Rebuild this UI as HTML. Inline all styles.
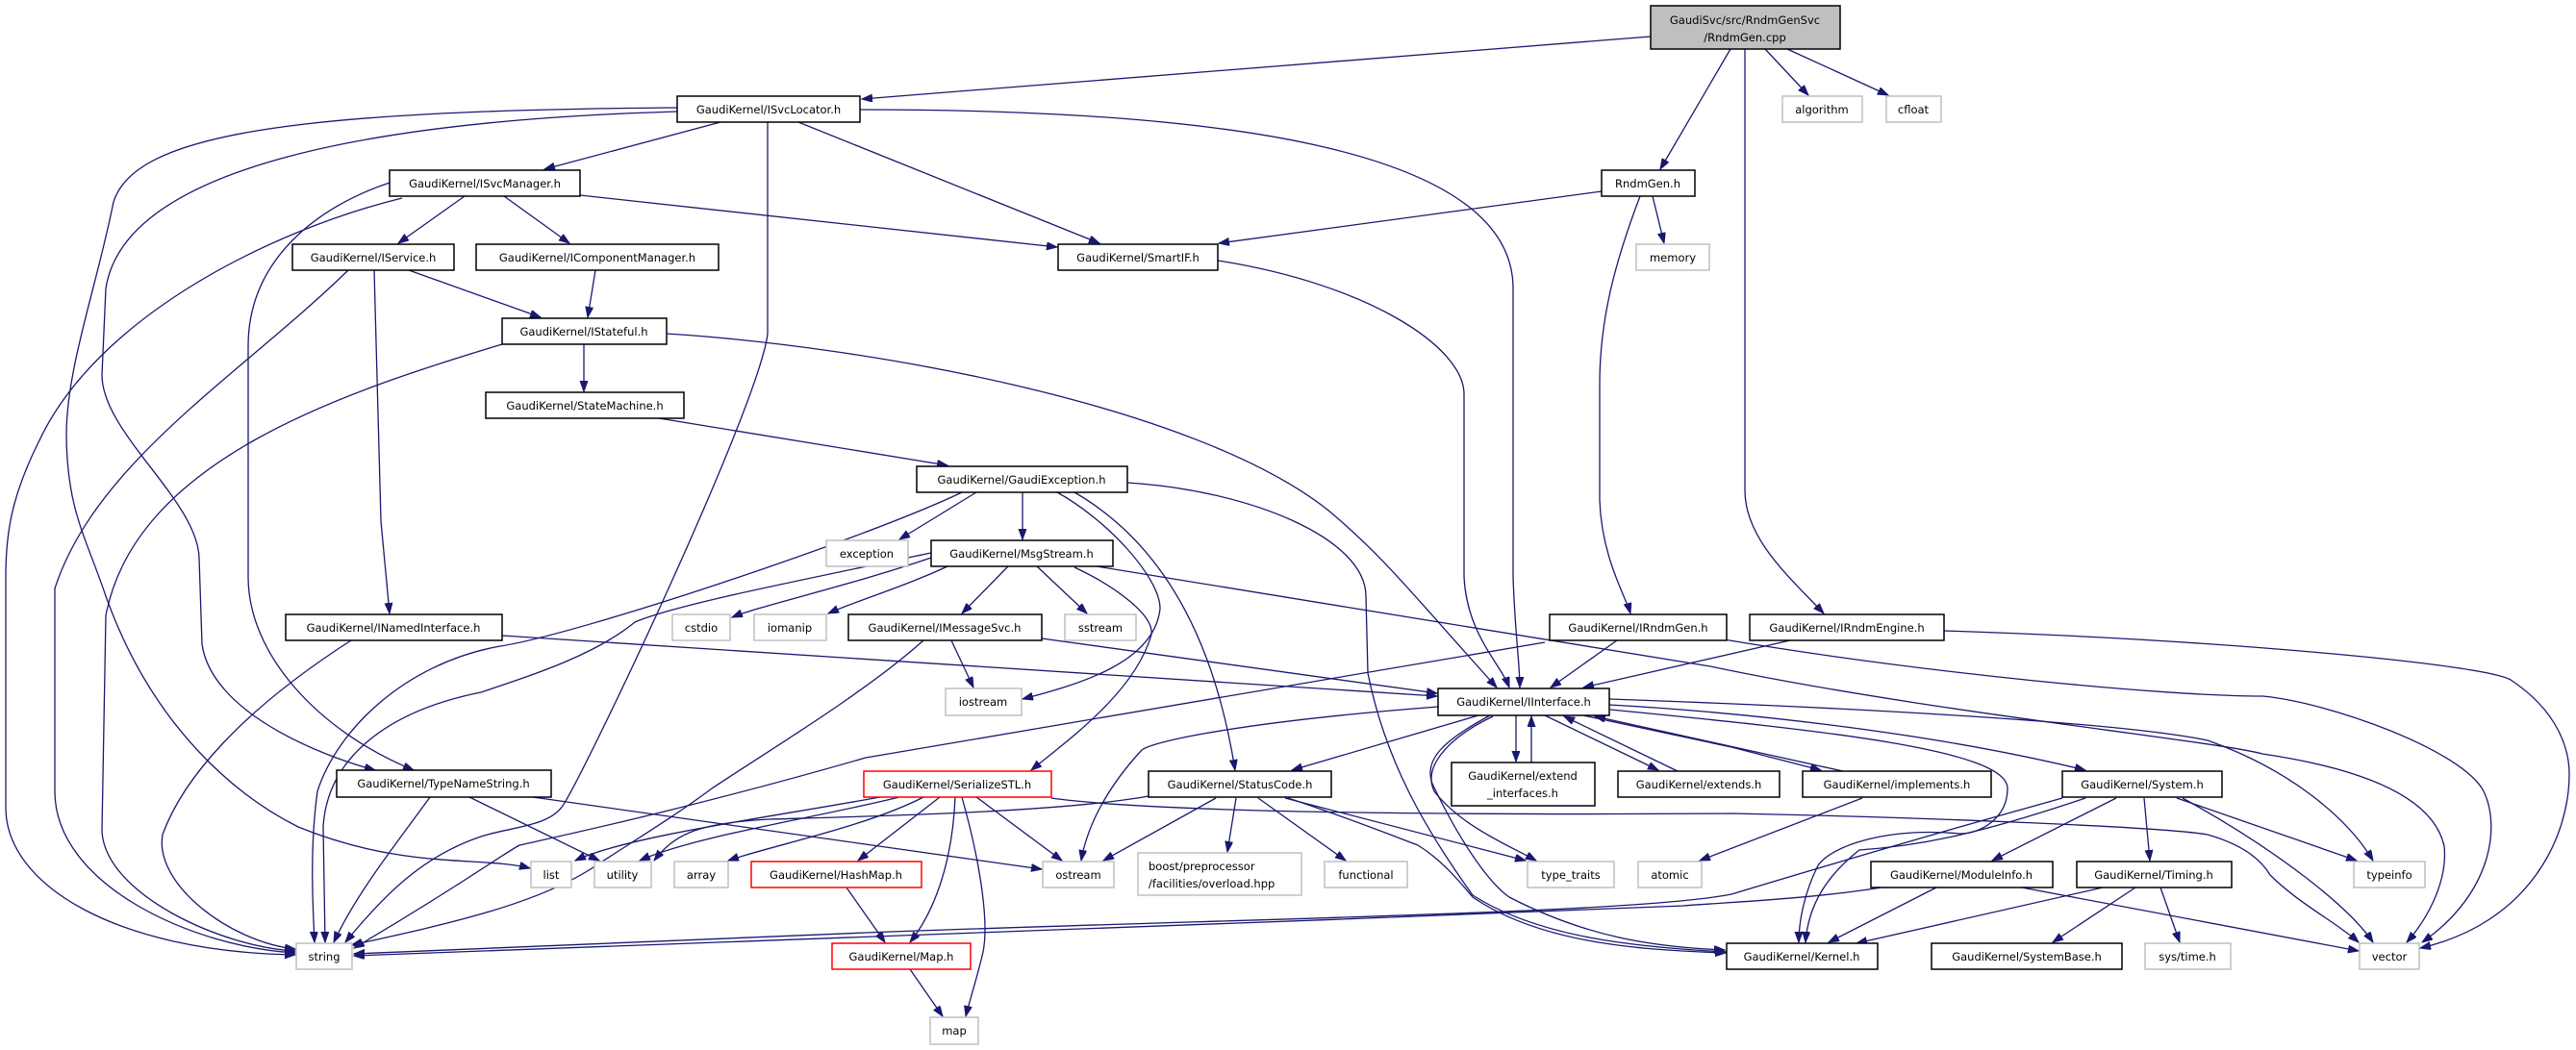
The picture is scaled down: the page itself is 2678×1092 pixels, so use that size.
<!DOCTYPE html>
<html><head><meta charset="utf-8"><style>
html,body{margin:0;padding:0;background:#fff;}
svg{display:block;}
text{font-family:"DejaVu Sans","Liberation Sans",sans-serif;font-size:11.5px;fill:#000;}
.e{fill:none;stroke:#191970;stroke-width:1.3;marker-end:url(#a);}
.n{fill:#fff;stroke:#000;stroke-width:1.5;}
.g{fill:#fff;stroke:#bfbfbf;stroke-width:1.5;}
.r{fill:#fff;stroke:#ff0000;stroke-width:1.5;}
</style></head><body>
<svg width="2678" height="1092" viewBox="0 0 2678 1092" xmlns="http://www.w3.org/2000/svg">
<defs><marker id="a" markerUnits="userSpaceOnUse" markerWidth="12" markerHeight="9" refX="11" refY="4" orient="auto"><path d="M0,0 L11,4 L0,8 z" fill="#191970" stroke="#191970"/></marker></defs>

<!-- edges -->
<path class="e" d="M1716,38 L896,103"/>
<path class="e" d="M1799,51 L1726,176"/>
<path class="e" d="M1835,51 L1880,99"/>
<path class="e" d="M1858,51 L1963,99"/>
<path class="e" d="M1814,51 L1814,510 C1814,560 1860,600 1896,638"/>
<path class="e" d="M749,127 L566,176"/>
<path class="e" d="M830,127 L1143,253"/>
<path class="e" d="M894,114 C1250,114 1573,150 1573,300 L1573,600 C1575,660 1580,690 1580,715"/>
<path class="e" d="M798,127 L798,347 C790,420 610,800 585,838 C570,860 530,860 500,870 C440,890 400,930 359,980"/>
<path class="e" d="M704,116 C400,125 130,170 110,300 L106,390 C106,450 205,520 207,580 L210,670 C220,740 330,785 390,801"/>
<path class="e" d="M704,112 C300,115 140,140 118,210 C100,300 70,380 69,450 C69,530 90,560 110,620 C160,760 250,830 310,860 C420,905 500,890 551,903"/>
<path class="e" d="M483,204 L414,253"/>
<path class="e" d="M524,204 L592,253"/>
<path class="e" d="M603,203 L1099,257"/>
<path class="e" d="M418,206 C280,240 100,330 40,460 C10,520 6,560 6,600 L6,840 C6,920 120,990 307,993"/>
<path class="e" d="M405,190 C330,215 258,270 258,360 L258,600 C258,680 330,760 430,801"/>
<path class="e" d="M425,281 L562,330"/>
<path class="e" d="M619,281 L611,330"/>
<path class="e" d="M389,281 L396,542 L405,638"/>
<path class="e" d="M362,281 C250,390 100,480 57,612 L57,823 C57,920 200,985 307,991"/>
<path class="e" d="M522,358 C350,410 141,480 110,640 L106,865 C110,930 230,985 307,989"/>
<path class="e" d="M607,358 L607,407"/>
<path class="e" d="M693,347 C900,360 1240,420 1380,530 C1440,580 1470,620 1556,715"/>
<path class="e" d="M685,435 L985,484"/>
<path class="e" d="M1266,271 C1420,295 1522,360 1522,410 L1522,600 C1525,660 1560,690 1569,715"/>
<path class="e" d="M1665,199 L1267,253"/>
<path class="e" d="M1718,204 L1730,253"/>
<path class="e" d="M1705,204 C1680,270 1663,330 1663,400 L1663,520 C1665,580 1690,620 1695,638"/>
<path class="e" d="M1015,512 L935,561"/>
<path class="e" d="M1063,512 L1063,561"/>
<path class="e" d="M1000,512 C900,560 600,660 520,672 C420,690 350,760 330,823 C322,880 325,940 327,980"/>
<path class="e" d="M968,575 C800,610 700,630 660,647 C620,680 560,700 500,720 C400,740 340,790 336,860 L338,980"/>
<path class="e" d="M968,580 C880,610 790,630 761,642"/>
<path class="e" d="M985,589 C940,610 890,625 861,638"/>
<path class="e" d="M1099,512 C1150,540 1206,600 1206,633 C1200,690 1120,712 1063,727"/>
<path class="e" d="M1117,512 C1200,560 1260,650 1284,801"/>
<path class="e" d="M1172,502 C1300,510 1420,560 1420,620 L1422,700 C1440,790 1480,860 1531,931 C1600,975 1700,985 1794,990"/>
<path class="e" d="M1117,590 C1160,610 1200,640 1197,660 C1180,720 1110,770 1072,801"/>
<path class="e" d="M1048,589 L1000,638"/>
<path class="e" d="M1078,589 L1130,638"/>
<path class="e" d="M1140,589 L1778,693 C2000,740 2300,770 2352,784 C2460,800 2530,830 2541,880 C2545,920 2520,960 2502,980"/>
<path class="e" d="M989,666 L1012,715"/>
<path class="e" d="M1083,664 L1494,721"/>
<path class="e" d="M960,666 C900,720 800,780 740,820 C700,850 650,880 620,900 C560,940 470,960 365,983"/>
<path class="e" d="M522,661 L1494,724"/>
<path class="e" d="M365,666 C250,740 190,810 169,868 C160,920 240,980 307,987"/>
<path class="e" d="M1681,666 L1612,715"/>
<path class="e" d="M1606,668 L900,788 C720,840 580,870 540,879 C520,890 480,920 368,986"/>
<path class="e" d="M1792,665 C2000,700 2250,724 2352,724 C2420,730 2560,780 2582,823 C2600,860 2590,930 2518,980"/>
<path class="e" d="M1861,666 L1646,715"/>
<path class="e" d="M2021,656 C2300,665 2580,690 2610,707 C2660,740 2671,780 2671,805 C2671,870 2630,960 2516,986"/>
<path class="e" d="M1495,735 C1300,750 1200,770 1187,780 C1150,820 1130,860 1124,895"/>
<path class="e" d="M1537,744 L1343,801"/>
<path class="e" d="M1576,744 L1576,792"/>
<path class="e" d="M1592,793 L1592,745"/>
<path class="e" d="M1606,744 L1724,801"/>
<path class="e" d="M1744,802 L1626,745"/>
<path class="e" d="M1646,744 L1800,777 L1893,801"/>
<path class="e" d="M1916,802 L1658,745"/>
<path class="e" d="M1673,733 C1800,740 2000,760 2168,801"/>
<path class="e" d="M1673,727 C1900,735 2200,750 2295,770 C2380,800 2440,850 2467,895"/>
<path class="e" d="M1552,745 C1500,770 1480,800 1491,823 C1520,860 1570,880 1597,895"/>
<path class="e" d="M1551,743 C1500,770 1480,790 1489,815 C1520,880 1550,920 1569,933 C1650,975 1720,985 1793,988"/>
<path class="e" d="M1674,738 C1900,760 2087,780 2087,820 C2087,850 2060,867 2038,867 C1960,860 1904,880 1890,900 C1875,930 1870,960 1870,980"/>
<path class="e" d="M1093,830 C1200,845 1500,848 1800,846 C2000,850 2250,860 2295,868 C2330,878 2350,893 2360,910 C2390,940 2430,960 2452,980"/>
<path class="e" d="M2144,830 C2000,870 1900,900 1800,930 C1700,950 1300,955 900,970 L368,992"/>
<path class="e" d="M1956,923 C1880,935 1800,938 1750,942 C1300,960 900,975 368,994"/>
<path class="e" d="M2168,830 C2050,870 1990,880 1933,884 C1900,910 1880,940 1877,980"/>
<path class="e" d="M2200,830 L2071,895"/>
<path class="e" d="M2229,830 L2235,895"/>
<path class="e" d="M2263,830 L2450,895"/>
<path class="e" d="M2269,830 C2360,880 2440,940 2467,980"/>
<path class="e" d="M2013,923 L1901,980"/>
<path class="e" d="M2102,923 L2452,989"/>
<path class="e" d="M2186,923 L1930,981"/>
<path class="e" d="M2220,923 L2134,980"/>
<path class="e" d="M2246,923 L2266,980"/>
<path class="e" d="M1936,830 L1767,895"/>
<path class="e" d="M1264,830 L1147,895"/>
<path class="e" d="M1285,830 L1276,886"/>
<path class="e" d="M1308,830 L1399,895"/>
<path class="e" d="M1336,830 L1586,895"/>
<path class="e" d="M1339,830 C1400,850 1450,870 1474,879 C1500,895 1520,920 1531,933 C1600,980 1700,988 1794,991"/>
<path class="e" d="M1194,828 C1100,845 900,849 800,852 C720,856 700,870 680,895"/>
<path class="e" d="M915,829 C800,850 650,870 598,895"/>
<path class="e" d="M935,829 C850,850 720,870 665,895"/>
<path class="e" d="M960,829 C900,860 800,880 757,895"/>
<path class="e" d="M977,829 L892,895"/>
<path class="e" d="M993,829 C990,900 970,950 946,980"/>
<path class="e" d="M1000,829 C1020,900 1028,960 1022,990 C1015,1020 1008,1040 1004,1057"/>
<path class="e" d="M1015,829 L1104,895"/>
<path class="e" d="M880,923 L920,980"/>
<path class="e" d="M946,1008 L980,1057"/>
<path class="e" d="M554,829 L1083,904"/>
<path class="e" d="M488,829 L623,895"/>
<path class="e" d="M447,829 C410,880 370,930 347,980"/>

<!-- nodes -->
<rect x="1716" y="6" width="197" height="45" fill="#bfbfbf" stroke="#000" stroke-width="1.5"/>
<text x="1814" y="25" text-anchor="middle">GaudiSvc/src/RndmGenSvc</text>
<text x="1814" y="43" text-anchor="middle">/RndmGen.cpp</text>

<g text-anchor="middle">
<rect class="n" x="704" y="100" width="190" height="27"/><text x="799" y="118">GaudiKernel/ISvcLocator.h</text>
<rect class="n" x="405" y="177" width="198" height="27"/><text x="504" y="195">GaudiKernel/ISvcManager.h</text>
<rect class="n" x="304" y="254" width="168" height="27"/><text x="388" y="272">GaudiKernel/IService.h</text>
<rect class="n" x="495" y="254" width="252" height="27"/><text x="621" y="272">GaudiKernel/IComponentManager.h</text>
<rect class="n" x="522" y="331" width="171" height="27"/><text x="607" y="349">GaudiKernel/IStateful.h</text>
<rect class="n" x="505" y="408" width="206" height="27"/><text x="608" y="426">GaudiKernel/StateMachine.h</text>
<rect class="n" x="1665" y="177" width="97" height="27"/><text x="1713" y="195">RndmGen.h</text>
<rect class="g" x="1701" y="254" width="76" height="27"/><text x="1739" y="272">memory</text>
<rect class="n" x="1100" y="254" width="166" height="27"/><text x="1183" y="272">GaudiKernel/SmartIF.h</text>
<rect class="g" x="1853" y="100" width="83" height="27"/><text x="1894" y="118">algorithm</text>
<rect class="g" x="1961" y="100" width="57" height="27"/><text x="1989" y="118">cfloat</text>
<rect class="n" x="953" y="485" width="219" height="27"/><text x="1062" y="503">GaudiKernel/GaudiException.h</text>
<rect class="g" x="859" y="562" width="85" height="27"/><text x="901" y="580">exception</text>
<rect class="n" x="968" y="562" width="189" height="27"/><text x="1062" y="580">GaudiKernel/MsgStream.h</text>
<rect class="n" x="297" y="639" width="225" height="27"/><text x="409" y="657">GaudiKernel/INamedInterface.h</text>
<rect class="g" x="699" y="639" width="60" height="27"/><text x="729" y="657">cstdio</text>
<rect class="g" x="784" y="639" width="75" height="27"/><text x="821" y="657">iomanip</text>
<rect class="n" x="882" y="639" width="201" height="27"/><text x="982" y="657">GaudiKernel/IMessageSvc.h</text>
<rect class="g" x="1107" y="639" width="74" height="27"/><text x="1144" y="657">sstream</text>
<rect class="n" x="1611" y="639" width="184" height="27"/><text x="1703" y="657">GaudiKernel/IRndmGen.h</text>
<rect class="n" x="1819" y="639" width="202" height="27"/><text x="1920" y="657">GaudiKernel/IRndmEngine.h</text>
<rect class="g" x="983" y="716" width="79" height="28"/><text x="1022" y="734">iostream</text>
<rect class="n" x="1495" y="716" width="178" height="28"/><text x="1584" y="734">GaudiKernel/IInterface.h</text>
<rect class="n" x="350" y="801" width="223" height="28"/><text x="461" y="819">GaudiKernel/TypeNameString.h</text>
<rect class="r" x="898" y="802" width="195" height="27"/><text x="995" y="820">GaudiKernel/SerializeSTL.h</text>
<rect class="n" x="1194" y="802" width="190" height="27"/><text x="1289" y="820">GaudiKernel/StatusCode.h</text>
<rect class="n" x="1509" y="793" width="149" height="45"/><text x="1583" y="811">GaudiKernel/extend</text><text x="1583" y="829">_interfaces.h</text>
<rect class="n" x="1682" y="802" width="168" height="27"/><text x="1766" y="820">GaudiKernel/extends.h</text>
<rect class="n" x="1874" y="802" width="196" height="27"/><text x="1972" y="820">GaudiKernel/implements.h</text>
<rect class="n" x="2144" y="802" width="166" height="27"/><text x="2227" y="820">GaudiKernel/System.h</text>
<rect class="g" x="552" y="896" width="42" height="27"/><text x="573" y="914">list</text>
<rect class="g" x="618" y="896" width="59" height="27"/><text x="647" y="914">utility</text>
<rect class="g" x="701" y="896" width="56" height="27"/><text x="729" y="914">array</text>
<rect class="r" x="781" y="896" width="177" height="27"/><text x="869" y="914">GaudiKernel/HashMap.h</text>
<rect class="g" x="1084" y="896" width="74" height="27"/><text x="1121" y="914">ostream</text>
<rect class="g" x="1183" y="887" width="170" height="44"/>
<rect class="g" x="1377" y="896" width="86" height="27"/><text x="1420" y="914">functional</text>
<rect class="g" x="1588" y="896" width="90" height="27"/><text x="1633" y="914">type_traits</text>
<rect class="g" x="1703" y="896" width="66" height="27"/><text x="1736" y="914">atomic</text>
<rect class="n" x="1945" y="896" width="189" height="27"/><text x="2039" y="914">GaudiKernel/ModuleInfo.h</text>
<rect class="n" x="2159" y="896" width="161" height="27"/><text x="2239" y="914">GaudiKernel/Timing.h</text>
<rect class="g" x="2447" y="896" width="74" height="27"/><text x="2484" y="914">typeinfo</text>
<rect class="g" x="308" y="981" width="58" height="27"/><text x="337" y="999">string</text>
<rect class="r" x="865" y="981" width="144" height="27"/><text x="937" y="999">GaudiKernel/Map.h</text>
<rect class="n" x="1795" y="981" width="157" height="27"/><text x="1873" y="999">GaudiKernel/Kernel.h</text>
<rect class="n" x="2008" y="981" width="198" height="27"/><text x="2107" y="999">GaudiKernel/SystemBase.h</text>
<rect class="g" x="2230" y="981" width="89" height="27"/><text x="2274" y="999">sys/time.h</text>
<rect class="g" x="2453" y="981" width="62" height="27"/><text x="2484" y="999">vector</text>
<rect class="g" x="967" y="1058" width="50" height="28"/><text x="992" y="1076">map</text>
</g>
<text x="1194" y="905">boost/preprocessor</text>
<text x="1194" y="923">/facilities/overload.hpp</text>
</svg>
</body></html>
